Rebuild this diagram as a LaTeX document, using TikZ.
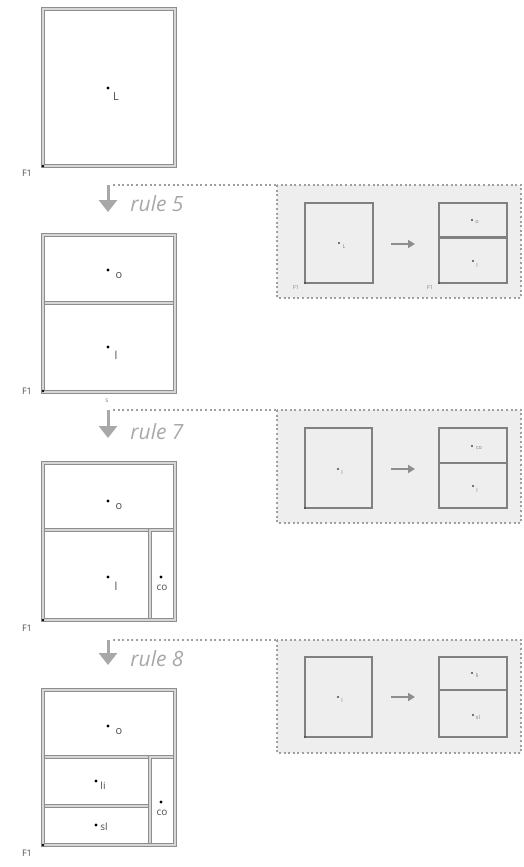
\documentclass[tikz,border=0pt]{standalone}
\usepackage{fontspec}
\setmainfont{Open Sans}
\usetikzlibrary{arrows.meta}
\definecolor{wallc}{HTML}{8E8E8E}
\definecolor{wallin}{HTML}{D6D6D6}
\definecolor{panelfill}{HTML}{EEEEEE}
\definecolor{rulec}{HTML}{A8A8A8}
\definecolor{labc}{HTML}{4A4A4A}
\begin{document}
\begin{tikzpicture}[x=1pt,y=-1pt,
  wall/.style={draw=wallc, line width=1pt, double=wallin, double distance=2.4pt},
  pwall/.style={draw=wallc!90!black, line width=1.4pt},
  spot/.style={circle, fill=black, inner sep=0pt, minimum size=3.2pt},
  pspot/.style={circle, fill=labc, inner sep=0pt, minimum size=2.2pt},
  lab/.style={inner sep=0pt, text=labc, font=\fontsize{11}{11}\selectfont},
  plab/.style={inner sep=0pt, text=labc!70, font=\fontsize{5.5}{5.5}\selectfont},
  flab/.style={inner sep=0pt, text=labc, font=\fontsize{9}{9}\selectfont},
  rulearrow/.style={draw=rulec, line width=3pt, -{Triangle[width=18pt,length=12pt]}},
  ruletext/.style={inner sep=0pt, text=rulec, font=\fontsize{21}{21}\selectfont\itshape},
  panel/.style={fill=panelfill, draw=wallc!85, line width=2pt, dash pattern=on 2pt off 2.6pt},
  lead/.style={draw=wallc!85, line width=2pt, dash pattern=on 2pt off 2.6pt},
  parrow/.style={draw=wallc, line width=1.8pt, -{Triangle[width=8pt,length=7pt]}}
]
\useasboundingbox (0,0) rectangle (524,867);

% ---------- Box 1 ----------
\draw[wall] (43,9) rectangle (175,166);
\node[spot] (d1L) at (108,88) {};
\node[lab] (t1L) at ([shift={(8,9)}]d1L) {L};
\node[spot, minimum size=2.8pt] (c1) at (43,166) {};
\node[flab] (f1a) at (27,173) {F1};

% ---------- rule 5 ----------
\coordinate (r5a) at (108,185);
\coordinate (r5b) at (108,212);
\coordinate (l5a) at (113,185);
\coordinate (l5b) at (277,185);
\draw[rulearrow] (r5a) -- (r5b);
\node[ruletext] (t5) at (157,204) {rule 5};
\draw[lead] (l5a) -- (l5b);

% ---------- Box 2 ----------
\draw[wall] (43,235) rectangle (175,303);
\draw[wall] (43,303) rectangle (175,392);
\draw[wall] (43,235) rectangle (175,392);
\node[spot] (d2o) at (108,270) {};
\node[lab] (t2o) at ([shift={(11,6)}]d2o) {o};
\node[spot] (d2l) at (108,347) {};
\node[lab] (t2l) at ([shift={(8,8)}]d2l) {l};
\node[spot, minimum size=2.8pt] (c2) at (43,391) {};
\node[flab] (f1b) at (27,391) {F1};
\node[plab, font=\fontsize{6.5}{6.5}\selectfont] (s2) at (107,401) {s};

% ---------- rule 7 ----------
\coordinate (r7a) at (108,410);
\coordinate (r7b) at (108,438);
\coordinate (l7a) at (113,410);
\coordinate (l7b) at (277,410);
\draw[rulearrow] (r7a) -- (r7b);
\node[ruletext] (t7) at (157,432) {rule 7};
\draw[lead] (l7a) -- (l7b);

% ---------- Box 3 ----------
\draw[wall] (43,463) rectangle (175,530);
\draw[wall] (43,530) rectangle (150,620);
\draw[wall] (150,530) rectangle (175,620);
\draw[wall] (43,463) rectangle (175,620);
\node[spot] (d3o) at (108,501) {};
\node[lab] (t3o) at ([shift={(11,6)}]d3o) {o};
\node[spot] (d3l) at (108,577) {};
\node[lab] (t3l) at ([shift={(8,9)}]d3l) {l};
\node[spot] (d3c) at (161,577) {};
\node[lab, font=\fontsize{10}{10}\selectfont] (t3c) at ([shift={(1,11)}]d3c) {co};
\node[spot, minimum size=2.8pt] (c3) at (43,620) {};
\node[flab] (f1c) at (27,628) {F1};

% ---------- rule 8 ----------
\coordinate (r8a) at (108,640);
\coordinate (r8b) at (108,665);
\coordinate (l8a) at (113,640);
\coordinate (l8b) at (277,640);
\draw[rulearrow] (r8a) -- (r8b);
\node[ruletext] (t8) at (157,659) {rule 8};
\draw[lead] (l8a) -- (l8b);

% ---------- Box 4 ----------
\draw[wall] (43,690) rectangle (175,757);
\draw[wall] (43,757) rectangle (150,806);
\draw[wall] (43,806) rectangle (150,845);
\draw[wall] (150,757) rectangle (175,845);
\draw[wall] (43,690) rectangle (175,845);
\node[spot] (d4o) at (108,726) {};
\node[lab] (t4o) at ([shift={(11,6)}]d4o) {o};
\node[spot] (d4li) at (96,781) {};
\node[lab, font=\fontsize{10}{10}\selectfont] (t4li) at ([shift={(7,5)}]d4li) {li};
\node[spot] (d4sl) at (96,825) {};
\node[lab, font=\fontsize{10}{10}\selectfont] (t4sl) at ([shift={(8,2)}]d4sl) {sl};
\node[spot] (d4c) at (161,802) {};
\node[lab, font=\fontsize{10}{10}\selectfont] (t4c) at ([shift={(1,11)}]d4c) {co};
\node[spot, minimum size=2.8pt] (c4) at (43,845) {};
\node[flab] (f1d) at (27,853) {F1};

% ---------- Panel rule 5 ----------
\draw[panel] (277,185) rectangle (521,298);
\draw[pwall] (305,203) rectangle (373,283);
\draw[pwall] (439,203) rectangle (507,238);
\draw[pwall] (439,238) rectangle (507,283);
\draw[pwall] (439,236.5) -- (507,236.5);
\node[pspot] (p5L) at (339,243) {};
\node[plab] (q5L) at ([shift={(5,4)}]p5L) {L};
\node[pspot] (p5o) at (472,220) {};
\node[plab] (q5o) at ([shift={(5,2)}]p5o) {o};
\node[pspot] (p5i) at (473,261) {};
\node[plab] (q5i) at ([shift={(4,4)}]p5i) {l};
\coordinate (a5a) at (391,244);
\coordinate (a5b) at (415,244);
\draw[parrow] (a5a) -- (a5b);
\node[pspot] (k5a) at (305,283) {};
\node[pspot] (k5b) at (439,283) {};
\node[plab] (g5a) at (296,288) {F1};
\node[plab] (g5b) at (430,288) {F1};

% ---------- Panel rule 7 ----------
\draw[panel] (277,410) rectangle (521,523);
\draw[pwall] (305,428) rectangle (372,508);
\draw[pwall] (439,428) rectangle (507,463);
\draw[pwall] (439,463) rectangle (507,508);
\node[pspot] (p7l) at (338,469) {};
\node[plab] (q7l) at ([shift={(4,3)}]p7l) {l};
\node[pspot] (p7c) at (472,446) {};
\node[plab] (q7c) at ([shift={(7,2)}]p7c) {co};
\node[pspot] (p7i) at (473,486) {};
\node[plab] (q7i) at ([shift={(4,4)}]p7i) {l};
\coordinate (a7a) at (391,469);
\coordinate (a7b) at (415,469);
\draw[parrow] (a7a) -- (a7b);
\node[pspot] (k7a) at (305,508) {};

% ---------- Panel rule 8 ----------
\draw[panel] (277,640) rectangle (521,753);
\draw[pwall] (305,657) rectangle (372,737);
\draw[pwall] (439,657) rectangle (507,690);
\draw[pwall] (439,690) rectangle (507,737);
\node[pspot] (p8l) at (338,697) {};
\node[plab] (q8l) at ([shift={(4,3)}]p8l) {l};
\node[pspot] (p8li) at (472,673) {};
\node[plab] (q8li) at ([shift={(5,2)}]p8li) {li};
\node[pspot] (p8sl) at (473,715) {};
\node[plab] (q8sl) at ([shift={(5,2)}]p8sl) {sl};
\coordinate (a8a) at (391,697);
\coordinate (a8b) at (415,697);
\draw[parrow] (a8a) -- (a8b);
\node[pspot] (k8a) at (305,737) {};
\end{tikzpicture}
\end{document}
